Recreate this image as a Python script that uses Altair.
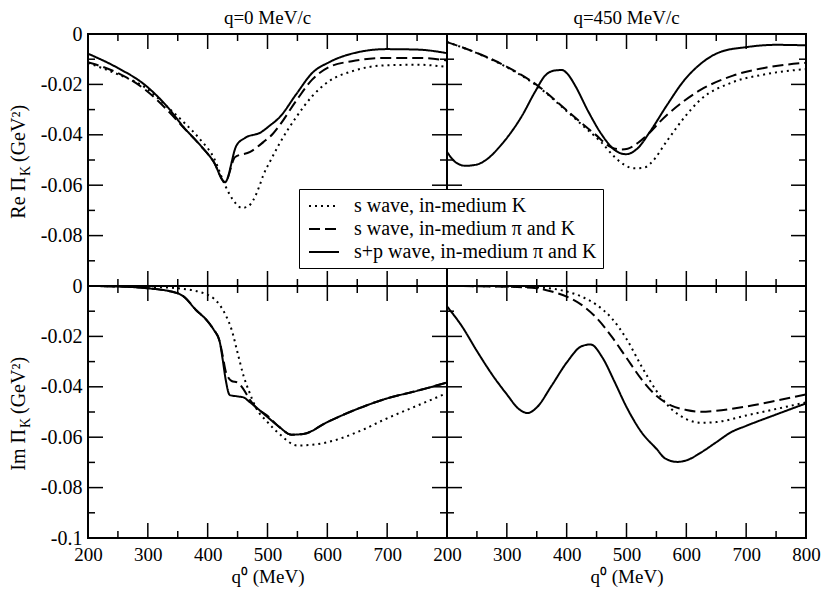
import altair as alt
import pandas as pd

FONT = "Liberation Serif"
SERIES = ["s wave, in-medium K", "s wave, in-medium π and K", "s+p wave, in-medium π and K"]

# ---- Re Pi_K, q = 0 MeV/c ----
tl_dot_q = [200, 250, 294, 333, 360, 388, 410, 429, 437, 448, 457, 467, 476, 487, 493, 504, 520, 548, 575, 603, 641, 699, 752, 800]
tl_dot_v = [-0.0115, -0.0160, -0.0210, -0.0290, -0.0350, -0.0420, -0.0490, -0.0600, -0.0638, -0.0675, -0.0690, -0.0685, -0.0660, -0.0600, -0.0560, -0.0507, -0.0435, -0.0330, -0.0246, -0.0187, -0.0148, -0.0124, -0.0122, -0.0131]
tl_dash_q = [200, 250, 294, 333, 360, 388, 410, 429, 446, 471, 493, 509, 520, 548, 575, 603, 641, 699, 752, 800]
tl_dash_v = [-0.0112, -0.0155, -0.0218, -0.0303, -0.0372, -0.0443, -0.0507, -0.0588, -0.0488, -0.0468, -0.0429, -0.0396, -0.0363, -0.0265, -0.0180, -0.0131, -0.0108, -0.0095, -0.0095, -0.0105]
tl_sol_q = [200, 250, 294, 333, 360, 388, 410, 429, 448, 462, 489, 504, 520, 548, 575, 603, 641, 699, 752, 800]
tl_sol_v = [-0.0078, -0.0135, -0.0200, -0.0290, -0.0370, -0.0442, -0.0507, -0.0588, -0.0443, -0.0413, -0.0390, -0.0363, -0.0331, -0.0239, -0.0154, -0.0112, -0.0078, -0.0060, -0.0062, -0.0076]

# ---- Re Pi_K, q = 450 MeV/c ----
tr_dot_q = [200, 250, 292, 347, 402, 430, 458, 480, 497, 513, 530, 540, 568, 596, 623, 678, 734, 800]
tr_dot_v = [-0.0032, -0.0076, -0.0122, -0.0200, -0.0310, -0.0370, -0.0430, -0.0488, -0.0520, -0.0533, -0.0530, -0.0514, -0.0423, -0.0333, -0.0262, -0.0191, -0.0159, -0.0139]
tr_dash_q = [200, 250, 292, 347, 402, 447, 474, 490, 502, 524, 568, 623, 678, 734, 800]
tr_dash_v = [-0.0032, -0.0075, -0.0120, -0.0197, -0.0307, -0.0397, -0.0449, -0.0458, -0.0455, -0.0423, -0.0320, -0.0223, -0.0165, -0.0133, -0.0114]
tr_sol_q = [200, 215, 231, 250, 265, 292, 325, 347, 364, 380, 392, 402, 414, 436, 458, 480, 499, 518, 540, 568, 596, 623, 656, 700, 750, 800]
tr_sol_v = [-0.0468, -0.0510, -0.0523, -0.0518, -0.0500, -0.0436, -0.0326, -0.0230, -0.0165, -0.0145, -0.0143, -0.0160, -0.0204, -0.0307, -0.0397, -0.0460, -0.0477, -0.0455, -0.0385, -0.0281, -0.0185, -0.0120, -0.0072, -0.0052, -0.0043, -0.0045]

# ---- Im Pi_K, q = 0 MeV/c ----
bl_dot_q = [200, 300, 350, 400, 420, 430, 440, 450, 460, 470, 480, 500, 520, 550, 575, 600, 650, 700, 750, 800]
bl_dot_v = [0.0, -0.0003, -0.0009, -0.0035, -0.0075, -0.0115, -0.0173, -0.0265, -0.0357, -0.0423, -0.0480, -0.0540, -0.0587, -0.0633, -0.0630, -0.0620, -0.0580, -0.0525, -0.0475, -0.0425]
bl_dash_q = [200, 250, 300, 350, 360, 380, 400, 410, 420, 425, 430, 440, 450, 460, 470, 480, 500, 520, 540, 560, 600, 650, 700, 750, 800]
bl_dash_v = [0.0, -0.0002, -0.0009, -0.0029, -0.0042, -0.0094, -0.0140, -0.0173, -0.0220, -0.0275, -0.0337, -0.0377, -0.0383, -0.0410, -0.0450, -0.0480, -0.0515, -0.0560, -0.0590, -0.0587, -0.0540, -0.0488, -0.0446, -0.0416, -0.0383]
bl_sol_q = [200, 250, 300, 350, 360, 380, 400, 410, 420, 425, 430, 437, 450, 460, 470, 500, 520, 540, 560, 600, 650, 700, 750, 800]
bl_sol_v = [0.0, -0.0002, -0.0009, -0.0029, -0.0042, -0.0094, -0.0140, -0.0173, -0.0220, -0.0290, -0.0370, -0.0433, -0.0438, -0.0442, -0.0460, -0.0520, -0.0560, -0.0590, -0.0587, -0.0540, -0.0488, -0.0446, -0.0416, -0.0383]

# ---- Im Pi_K, q = 450 MeV/c ----
br_dot_q = [200, 300, 350, 400, 425, 450, 475, 500, 525, 550, 575, 600, 625, 650, 700, 750, 800]
br_dot_v = [0.0, -0.0002, -0.0005, -0.0022, -0.0042, -0.0075, -0.0127, -0.0210, -0.0318, -0.0416, -0.0488, -0.0528, -0.0543, -0.0540, -0.0514, -0.0488, -0.0462]
br_dash_q = [200, 300, 350, 375, 400, 425, 450, 475, 500, 525, 550, 575, 600, 625, 650, 700, 750, 800]
br_dash_v = [0.0, -0.0003, -0.0009, -0.0022, -0.0042, -0.0075, -0.0127, -0.0200, -0.0285, -0.0370, -0.0436, -0.0475, -0.0492, -0.0499, -0.0495, -0.0478, -0.0455, -0.0430]
br_sol_q = [200, 225, 250, 275, 300, 320, 335, 350, 375, 400, 425, 440, 460, 480, 500, 525, 550, 565, 585, 600, 625, 650, 675, 700, 750, 800]
br_sol_v = [-0.0081, -0.0160, -0.0258, -0.0350, -0.0430, -0.0488, -0.0504, -0.0482, -0.0395, -0.0304, -0.0239, -0.0232, -0.0285, -0.0380, -0.0480, -0.0580, -0.0646, -0.0685, -0.0698, -0.0692, -0.0660, -0.0620, -0.0580, -0.0555, -0.0510, -0.0466]

# tick values
x_major = [200, 300, 400, 500, 600, 700, 800]
x_minor = [250, 350, 450, 550, 650, 750]
y_major = [0, -0.02, -0.04, -0.06, -0.08, -0.1]
y_minor = [-0.01, -0.03, -0.05, -0.07, -0.09]

# texts
col_titles = ["q=0 MeV/c", "q=450 MeV/c"]
re_title = ["Re Π", "K", "(GeV²)"]
im_title = ["Im Π", "K", "(GeV²)"]

W, H = 359, 252
MAJ, MIN = 15, 7

xscale = alt.Scale(domain=[200, 800], nice=False, zero=False)
yscale = alt.Scale(domain=[-0.1, 0], nice=False, zero=False)
dash_scale = alt.Scale(domain=SERIES, range=[[2, 4], [11, 5], [1, 0]])

legend = alt.Legend(
    orient="none", legendX=211, legendY=155, title=None,
    strokeColor="black", fillColor="white", padding=6, cornerRadius=0,
    labelFont=FONT, labelFontSize=20, labelColor="black", labelLimit=0,
    symbolType="M-1.5,0H1.5", symbolSize=400, symbolStrokeWidth=2, symbolOffset=8,
    symbolStrokeColor="black", rowPadding=2, labelOffset=19,
)


def frame(series_list):
    rows = []
    for name, qs, vs in series_list:
        for q, v in zip(qs, vs):
            rows.append({"series": name, "q": q, "v": v})
    return pd.DataFrame(rows)


def text_layer(txt, **kw):
    return alt.Chart(pd.DataFrame({"t": [txt]})).mark_text(font=FONT, color="black", **kw)


def ytitle_layers(pieces):
    main, sub, unit = pieces
    common = dict(angle=270, baseline="middle")
    pos = dict(text="t:N", x=alt.value(-69), y=alt.value(H / 2))
    return [
        text_layer(main, align="right", fontSize=20, dx=-17, **common).encode(**pos),
        text_layer(sub, align="left", fontSize=14, dx=-16, dy=7, **common).encode(**pos),
        text_layer(unit, align="left", fontSize=20, dx=-2, **common).encode(**pos),
    ]


def panel(series_list, xaxis, yaxis, title=None, ytitle=None):
    df = frame(series_list)
    lines = alt.Chart(df).mark_line(color="black", strokeWidth=2, interpolate="monotone", clip=True).encode(
        x=alt.X("q:Q", scale=xscale, axis=xaxis),
        y=alt.Y("v:Q", scale=yscale, axis=yaxis),
        strokeDash=alt.StrokeDash("series:N", scale=dash_scale, legend=legend),
        detail="series:N",
    )
    layers = [lines]
    for vals, ln in ((x_major, MAJ), (x_minor, MIN)):
        d = pd.DataFrame({"t": vals})
        layers.append(alt.Chart(d).mark_rule(color="black", strokeWidth=1.5).encode(
            x=alt.X("t:Q", scale=xscale, axis=xaxis), y=alt.value(0), y2=alt.value(ln)))
        layers.append(alt.Chart(d).mark_rule(color="black", strokeWidth=1.5).encode(
            x=alt.X("t:Q", scale=xscale, axis=xaxis), y=alt.value(H), y2=alt.value(H - ln)))
    for vals, ln in ((y_major, MAJ), (y_minor, MIN)):
        d = pd.DataFrame({"t": vals})
        layers.append(alt.Chart(d).mark_rule(color="black", strokeWidth=1.5).encode(
            y=alt.Y("t:Q", scale=yscale, axis=yaxis), x=alt.value(0), x2=alt.value(ln)))
        layers.append(alt.Chart(d).mark_rule(color="black", strokeWidth=1.5).encode(
            y=alt.Y("t:Q", scale=yscale, axis=yaxis), x=alt.value(W), x2=alt.value(W - ln)))
    if ytitle:
        layers += ytitle_layers(ytitle)
    if title:
        layers.append(text_layer(title, align="center", baseline="alphabetic", fontSize=19)
                      .encode(text="t:N", x=alt.value(W / 2), y=alt.value(-10)))
    return alt.layer(*layers).properties(width=W, height=H)


def yax(values):
    return alt.Axis(title=None, values=values, ticks=False, domain=False, grid=False,
                    labelFont=FONT, labelFontSize=20, labelColor="black", labelPadding=6,
                    labelFlush=False, labelOverlap=False,
                    labelExpr="datum.value == 0 ? '0' : '-' + format(-datum.value, '~g')")


def xax(values):
    return alt.Axis(title="q⁰ (MeV)", values=values, ticks=False, domain=False, grid=False,
                    labelFont=FONT, labelFontSize=19, labelColor="black", labelPadding=7,
                    labelFlush=False, labelOverlap=False, format="d",
                    titleFont=FONT, titleFontSize=19, titleFontWeight="normal", titleColor="black",
                    titlePadding=3)


tl = panel([(SERIES[0], tl_dot_q, tl_dot_v), (SERIES[1], tl_dash_q, tl_dash_v), (SERIES[2], tl_sol_q, tl_sol_v)],
           None, yax([0, -0.02, -0.04, -0.06, -0.08]), col_titles[0], re_title)
tr = panel([(SERIES[0], tr_dot_q, tr_dot_v), (SERIES[1], tr_dash_q, tr_dash_v), (SERIES[2], tr_sol_q, tr_sol_v)],
           None, None, col_titles[1])
bl = panel([(SERIES[0], bl_dot_q, bl_dot_v), (SERIES[1], bl_dash_q, bl_dash_v), (SERIES[2], bl_sol_q, bl_sol_v)],
           xax([200, 300, 400, 500, 600, 700]), yax([0, -0.02, -0.04, -0.06, -0.08, -0.1]), None, im_title)
br = panel([(SERIES[0], br_dot_q, br_dot_v), (SERIES[1], br_dash_q, br_dash_v), (SERIES[2], br_sol_q, br_sol_v)],
           xax([200, 300, 400, 500, 600, 700, 800]), None)

chart = alt.concat(tl, tr, bl, br, columns=2, spacing=0, bounds="flush").properties(
    padding={"left": 0, "top": 0, "right": 0, "bottom": 0}
).configure(font=FONT).configure_view(stroke="black", strokeWidth=2)

chart.save("out.html", embed_options={"renderer": "svg", "actions": False})
